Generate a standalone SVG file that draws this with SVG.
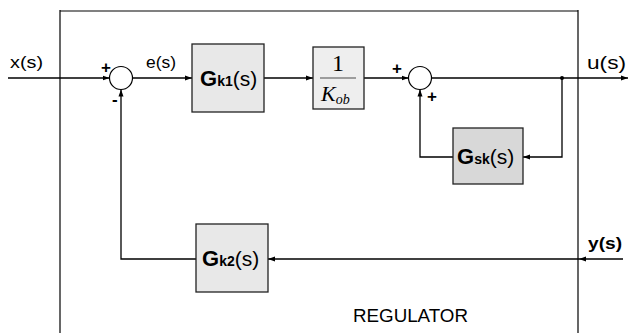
<svg xmlns="http://www.w3.org/2000/svg" width="630" height="333" viewBox="0 0 630 333">
<defs>
<marker id="ah" markerWidth="7" markerHeight="6" refX="7" refY="3" orient="auto" markerUnits="userSpaceOnUse">
<path d="M0,0.5 L7,3 L0,5.5 Z" fill="#000"/>
</marker>
</defs>
<style>
.ln{stroke:#000;stroke-width:1.3;fill:none}
.box{stroke:#222;stroke-width:1.3}
.t{font-family:"Liberation Sans",Arial,sans-serif;fill:#000}
</style>
<rect width="630" height="333" fill="#fff"/>
<g id="regulator">
<line x1="60" y1="11" x2="578" y2="11" stroke="#808080" stroke-width="2"/>
<line x1="60" y1="10" x2="60" y2="333" stroke="#000" stroke-width="1.2"/>
<line x1="578" y1="10" x2="578" y2="333" stroke="#000" stroke-width="1.2"/>
<text class="t" x="353" y="322" font-size="17.5" textLength="115" lengthAdjust="spacingAndGlyphs">REGULATOR</text>
</g>
<g id="connectors">
<line class="ln" x1="8" y1="78" x2="109.5" y2="78" marker-end="url(#ah)"/>
<line class="ln" x1="132.5" y1="78" x2="192" y2="78" marker-end="url(#ah)"/>
<line class="ln" x1="264" y1="78" x2="313" y2="78" marker-end="url(#ah)"/>
<line class="ln" x1="364" y1="78" x2="408.5" y2="78" marker-end="url(#ah)"/>
<line class="ln" x1="431.5" y1="78" x2="628" y2="78" marker-end="url(#ah)"/>
<circle cx="562" cy="78" r="2" fill="#000"/>
<polyline class="ln" points="562,78 562,157 523,157" marker-end="url(#ah)"/>
<polyline class="ln" points="453,157 420,157 420,89.5" marker-end="url(#ah)"/>
<line class="ln" x1="623" y1="259" x2="579" y2="259" marker-end="url(#ah)"/>
<line class="ln" x1="579" y1="259" x2="268" y2="259" marker-end="url(#ah)"/>
<polyline class="ln" points="196,259 121,259 121,89.5" marker-end="url(#ah)"/>
</g>
<g id="sum1">
<circle cx="121" cy="78" r="11.5" fill="#fff" stroke="#000" stroke-width="1.2"/>
<text class="t" x="101" y="73" font-size="17" font-weight="bold">+</text>
<text class="t" x="112" y="105" font-size="17" font-weight="bold">-</text>
</g>
<g id="sum2">
<circle cx="420" cy="78" r="11.5" fill="#fff" stroke="#000" stroke-width="1.2"/>
<text class="t" x="392" y="74" font-size="17" font-weight="bold">+</text>
<text class="t" x="427" y="102" font-size="17" font-weight="bold">+</text>
</g>
<g id="gk1">
<rect class="box" x="192" y="44" width="72" height="68" fill="#e8e8e8"/>
<text class="t" x="200" y="86"><tspan font-size="22" font-weight="bold">G</tspan><tspan font-size="14" font-weight="bold">k1</tspan><tspan font-size="21">(s)</tspan></text>
</g>
<g id="kob">
<rect class="box" x="313" y="47" width="51" height="62" fill="#eeeeee"/>
<text x="338" y="71" font-family="'Liberation Serif','Times New Roman',serif" font-size="24" text-anchor="middle">1</text>
<line x1="320" y1="78" x2="356" y2="78" stroke="#808080" stroke-width="1.3"/>
<text x="321" y="101" font-family="'Liberation Serif','Times New Roman',serif" font-size="22" font-style="italic">K<tspan font-size="14" dy="3">ob</tspan></text>
</g>
<g id="gsk">
<rect class="box" x="453" y="128" width="70" height="56" fill="#d8d8d8"/>
<text class="t" x="457" y="164"><tspan font-size="22" font-weight="bold">G</tspan><tspan font-size="14" font-weight="bold">sk</tspan><tspan font-size="21">(s)</tspan></text>
</g>
<g id="gk2">
<rect class="box" x="196" y="224" width="72" height="68" fill="#e8e8e8"/>
<text class="t" x="202" y="266"><tspan font-size="22" font-weight="bold">G</tspan><tspan font-size="14" font-weight="bold">k2</tspan><tspan font-size="21">(s)</tspan></text>
</g>
<g id="labels">
<text class="t" x="10" y="68" font-size="17" textLength="33" lengthAdjust="spacingAndGlyphs">x(s)</text>
<text class="t" x="146" y="68" font-size="17" textLength="30" lengthAdjust="spacingAndGlyphs">e(s)</text>
<text class="t" x="587" y="69" font-size="19" textLength="39" lengthAdjust="spacingAndGlyphs">u(s)</text>
<text class="t" x="588" y="249" font-size="16" font-weight="bold" textLength="34" lengthAdjust="spacingAndGlyphs">y(s)</text>
</g>
</svg>
